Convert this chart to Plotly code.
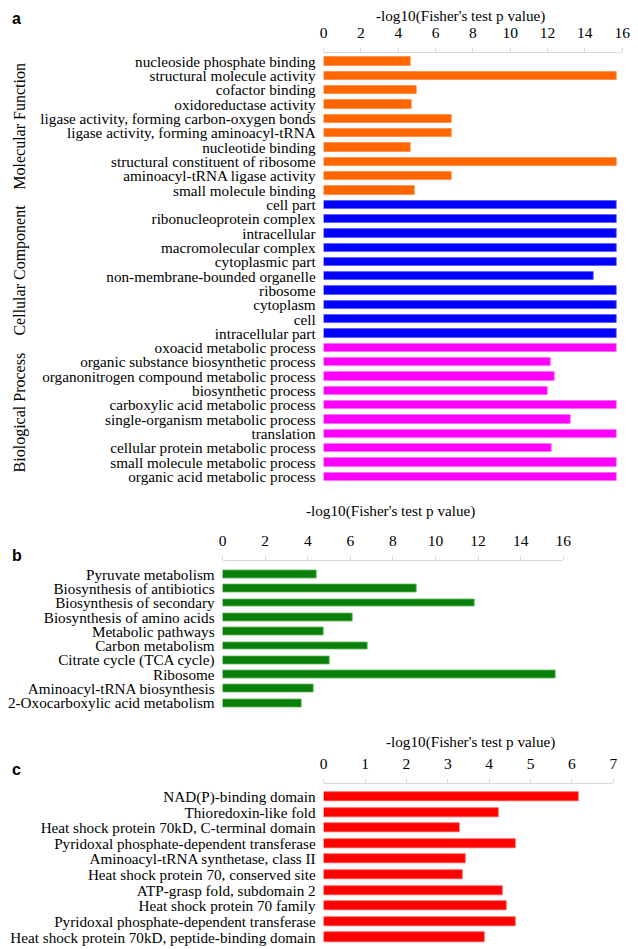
import plotly.graph_objects as go

W, H = 638, 949
OFF = 8  # default page (body) margin of the html page

# ---------------- data ----------------
mf_terms = ["nucleoside phosphate binding", "structural molecule activity", "cofactor binding",
            "oxidoreductase activity", "ligase activity, forming carbon-oxygen bonds",
            "ligase activity, forming aminoacyl-tRNA", "nucleotide binding",
            "structural constituent of ribosome", "aminoacyl-tRNA ligase activity",
            "small molecule binding"]
mf_values = [4.65, 15.7, 5.0, 4.72, 6.85, 6.85, 4.65, 15.7, 6.85, 4.88]

cc_terms = ["cell part", "ribonucleoprotein complex", "intracellular", "macromolecular complex",
            "cytoplasmic part", "non-membrane-bounded organelle", "ribosome", "cytoplasm",
            "cell", "intracellular part"]
cc_values = [15.7, 15.7, 15.7, 15.7, 15.7, 14.45, 15.7, 15.7, 15.7, 15.7]

bp_terms = ["oxoacid metabolic process", "organic substance biosynthetic process",
            "organonitrogen compound metabolic process", "biosynthetic process",
            "carboxylic acid metabolic process", "single-organism metabolic process",
            "translation", "cellular protein metabolic process",
            "small molecule metabolic process", "organic acid metabolic process"]
bp_values = [15.7, 12.15, 12.4, 12.0, 15.7, 13.25, 15.7, 12.2, 15.7, 15.7]

go_groups = ["Molecular Function", "Cellular Component", "Biological Process"]

kegg_terms = ["Pyruvate metabolism", "Biosynthesis of antibiotics", "Biosynthesis of secondary",
              "Biosynthesis of amino acids", "Metabolic pathways", "Carbon metabolism",
              "Citrate cycle (TCA cycle)", "Ribosome", "Aminoacyl-tRNA biosynthesis",
              "2-Oxocarboxylic acid metabolism"]
kegg_values = [4.4, 9.12, 11.83, 6.12, 4.72, 6.81, 5.04, 15.63, 4.27, 3.69]

domain_terms = ["NAD(P)-binding domain", "Thioredoxin-like fold",
                "Heat shock protein 70kD, C-terminal domain",
                "Pyridoxal phosphate-dependent transferase",
                "Aminoacyl-tRNA synthetase, class II", "Heat shock protein 70, conserved site",
                "ATP-grasp fold, subdomain 2", "Heat shock protein 70 family",
                "Pyridoxal phosphate-dependent transferase",
                "Heat shock protein 70kD, peptide-binding domain"]
domain_values = [6.16, 4.24, 3.29, 4.63, 3.44, 3.35, 4.32, 4.43, 4.63, 3.88]

x_title = "-log10(Fisher's test p value)"
ticks_ab = [0, 2, 4, 6, 8, 10, 12, 14, 16]
ticks_c = [0, 1, 2, 3, 4, 5, 6, 7]

# ---------------- helpers (page pixels -> paper fraction) ----------------
FW, FH = W - OFF, H - OFF

def px(x):
    return (x - OFF) / FW

def py(y):
    return 1 - (y - OFF) / FH

SERIF = "Liberation Serif"
SANS = "Liberation Sans"
LBL = 15.2

fig = go.Figure()

# Panel a
a_terms = mf_terms + cc_terms + bp_terms
a_values = mf_values + cc_values + bp_values
a_colors = ["#FF6600"] * len(mf_terms) + ["#0000FF"] * len(cc_terms) + ["#FF00FF"] * len(bp_terms)
a_edges = ["#FF8A3D"] * len(mf_terms) + ["#5A5AFF"] * len(cc_terms) + ["#FF6AFF"] * len(bp_terms)
a_pos = list(range(len(a_terms)))
fig.add_trace(go.Bar(x=a_values, y=a_pos, orientation="h",
                     marker=dict(color=a_colors, line=dict(color=a_edges, width=0.8)),
                     width=0.58, xaxis="x", yaxis="y", showlegend=False))

# Panel b
b_pos = list(range(len(kegg_terms)))
fig.add_trace(go.Bar(x=kegg_values, y=b_pos, orientation="h",
                     marker=dict(color="#0A800A", line=dict(color="#5FB85F", width=0.8)),
                     width=0.55, xaxis="x2", yaxis="y2", showlegend=False))

# Panel c
c_pos = list(range(len(domain_terms)))
fig.add_trace(go.Bar(x=domain_values, y=c_pos, orientation="h",
                     marker=dict(color="#FF0000", line=dict(color="#FF5050", width=0.8)),
                     width=0.58, xaxis="x3", yaxis="y3", showlegend=False))

xcommon = dict(side="top", showline=True, linecolor="#D9D9D9", linewidth=1,
               ticks="outside", ticklen=4, tickcolor="#D9D9D9", showgrid=False,
               zeroline=False, tickfont=dict(family=SERIF, size=15.5, color="black"),
               ticklabelstandoff=4, fixedrange=True)
ycommon = dict(showline=False, ticks="", showgrid=False, zeroline=False,
               tickfont=dict(family=SERIF, size=LBL, color="black"), fixedrange=True,
               ticklabelstandoff=7)

fig.update_layout(
    width=FW, height=FH,
    margin=dict(l=0, r=0, t=0, b=0),
    paper_bgcolor="white", plot_bgcolor="white",
    bargap=0,
    xaxis=dict(xcommon, domain=[px(325.7), px(630)], range=[0, 16], tickvals=ticks_ab,
               anchor="y"),
    yaxis=dict(ycommon, domain=[py(485), py(53)], range=[29.55, -0.6],
               tickvals=a_pos, ticktext=a_terms, anchor="x"),
    xaxis2=dict(xcommon, domain=[px(222.7), px(570)], range=[0, 16], tickvals=ticks_ab,
                anchor="y2"),
    yaxis2=dict(ycommon, domain=[py(711), py(562)], range=[9.5, -0.9],
                tickvals=b_pos, ticktext=kegg_terms, anchor="x2"),
    xaxis3=dict(xcommon, domain=[px(325.7), px(621)], range=[0, 7], tickvals=ticks_c,
                anchor="y3"),
    yaxis3=dict(ycommon, domain=[py(946), py(785)], range=[9.5, -0.8],
                tickvals=c_pos, ticktext=domain_terms, anchor="x3"),
)

ann = []
# axis titles
for xc, yc in [(465, 16), (394, 512), (475, 743)]:
    ann.append(dict(text=x_title, x=px(xc), y=py(yc), xref="paper", yref="paper",
                    showarrow=False, xanchor="center", yanchor="middle",
                    font=dict(family=SERIF, size=LBL, color="black")))
# panel letters
for t, xc, yc in [("a", 13, 19), ("b", 13, 556), ("c", 13, 770)]:
    ann.append(dict(text="<b>%s</b>" % t, x=px(xc), y=py(yc), xref="paper", yref="paper",
                    showarrow=False, xanchor="center", yanchor="middle",
                    font=dict(family=SANS, size=16, color="black")))
# GO group labels
for g, yc in zip(go_groups, [126, 270, 413]):
    ann.append(dict(text=g, x=px(16), y=py(yc), xref="paper", yref="paper",
                    showarrow=False, textangle=-90, xanchor="center", yanchor="middle",
                    font=dict(family=SERIF, size=16, color="black")))
fig.update_layout(annotations=ann)

fig.write_html("out.html")
